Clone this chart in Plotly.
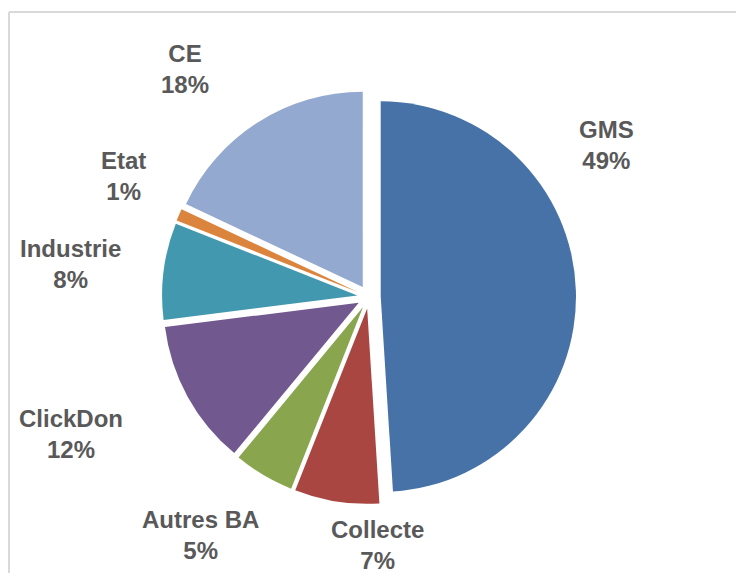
import plotly.graph_objects as go

# Data
categories = ["GMS", "Collecte", "Autres BA", "ClickDon", "Industrie", "Etat", "CE"]
values = [49, 7, 5, 12, 8, 1, 18]
colors = ["#4672A8", "#A94642", "#89A54E", "#71588F", "#4198AF", "#DB843D", "#93A9CF"]

# Label block centres (pixel positions in the 736x573 canvas)
label_pos = [(606, 145), (377, 545), (200, 535), (71, 434), (70, 264), (123, 176), (185, 69)]

W, H = 736, 573
cx, cy = 369, 297          # pie centre (px from top-left)
R = 207                    # domain half size (px)

fig = go.Figure(go.Pie(
    labels=categories,
    values=values,
    sort=False,
    direction="clockwise",
    rotation=0,
    marker=dict(colors=colors, line=dict(color="white", width=0)),
    pull=[0.06] * len(values),
    textinfo="none",
    hoverinfo="label+percent",
    showlegend=False,
    domain=dict(x=[(cx - R) / W, (cx + R) / W],
                y=[(H - cy - R) / H, (H - cy + R) / H]),
))

annotations = []
for name, val, (px, py) in zip(categories, values, label_pos):
    annotations.append(dict(
        x=px / W, y=1 - py / H, xref="paper", yref="paper",
        text=f"<b>{name}<br>{val}%</b>", showarrow=False,
        font=dict(family="Liberation Sans, Arial, sans-serif", size=24, color="#595959"),
        align="center", xanchor="center", yanchor="middle",
    ))

shapes = [
    dict(type="line", xref="paper", yref="paper", x0=9 / W, x1=1.0, y0=1 - 12 / H, y1=1 - 12 / H,
         line=dict(color="#D9D9D9", width=2)),
    dict(type="line", xref="paper", yref="paper", x0=9 / W, x1=9 / W, y0=0, y1=1 - 12 / H,
         line=dict(color="#D9D9D9", width=2)),
]

fig.update_layout(
    width=W, height=H,
    margin=dict(l=0, r=0, t=0, b=0),
    paper_bgcolor="white",
    plot_bgcolor="white",
    annotations=annotations,
    shapes=shapes,
)

fig.write_html(
    "out.html",
    config={"displayModeBar": False},
    post_script="document.body.style.margin='0';document.body.style.overflow='hidden';",
)
